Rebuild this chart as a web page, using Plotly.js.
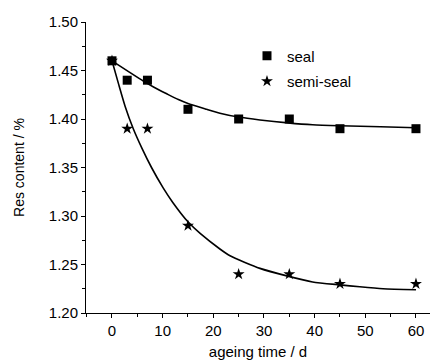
<!DOCTYPE html>
<html>
<head>
<meta charset="utf-8">
<script src="https://cdn.plot.ly/plotly-3.0.1.min.js"></script>
<style>html,body{margin:0;padding:0;background:#fff;}#chart{width:431px;height:361px;}</style>
</head>
<body>
<div id="chart"></div>
<script>
// Measured data
const days = [0, 3, 7, 15, 25, 35, 45, 60];
const sealValues = [1.46, 1.44, 1.44, 1.41, 1.40, 1.40, 1.39, 1.39];
const semiSealValues = [1.46, 1.39, 1.39, 1.29, 1.24, 1.24, 1.23, 1.23];

// Fitted curves
const sealFitDays = [0, 3.5, 6.2, 8.2, 10.8, 13.1, 15, 18.7, 21.3, 25, 29.2, 34.7, 39.6, 45, 53, 60];
const sealFitValues = [1.460, 1.448, 1.439, 1.433, 1.426, 1.420, 1.416, 1.410, 1.406, 1.402, 1.399, 1.396, 1.394, 1.393, 1.392, 1.391];
const semiFitDays = [0, 1.25, 2.6, 4.2, 5.9, 7.8, 10.1, 12, 15, 17.4, 21.3, 23.3, 29.2, 34.7, 39.6, 45, 48.9, 53.5, 60];
const semiFitValues = [1.460, 1.437, 1.413, 1.390, 1.370, 1.350, 1.329, 1.314, 1.294, 1.282, 1.266, 1.259, 1.246, 1.238, 1.232, 1.229, 1.227, 1.225, 1.224];

const xTickVals = [0, 10, 20, 30, 40, 50, 60];
const yTickVals = [1.20, 1.25, 1.30, 1.35, 1.40, 1.45, 1.50];
const yTickText = ['1.20', '1.25', '1.30', '1.35', '1.40', '1.45', '1.50'];

const FONT = 'Liberation Sans, Arial, sans-serif';

const traces = [
  {x: sealFitDays, y: sealFitValues, mode: 'lines', line: {color: '#000', width: 1.6, shape: 'spline', smoothing: 0.6}, showlegend: false, hoverinfo: 'skip'},
  {x: semiFitDays, y: semiFitValues, mode: 'lines', line: {color: '#000', width: 1.6, shape: 'spline', smoothing: 0.6}, showlegend: false, hoverinfo: 'skip'},
  {x: days, y: sealValues, mode: 'markers', name: 'seal', legendgroup: 'a',
   marker: {symbol: 'square', size: 9, color: '#000'}},
  {x: days, y: semiSealValues, mode: 'markers', name: 'semi-seal', legendgroup: 'b',
   marker: {symbol: 'star', size: 9, color: '#000'}}
];

const layout = {
  width: 431, height: 361,
  margin: {l: 86, r: 1, t: 22, b: 48},
  paper_bgcolor: '#fff', plot_bgcolor: '#fff',
  font: {family: FONT, size: 15, color: '#000'},
  showlegend: true,
  legend: {x: 0.468, y: 0.94, xanchor: 'left', yanchor: 'top', bgcolor: 'rgba(0,0,0,0)',
           font: {family: FONT, size: 15, color: '#000'}, traceorder: 'grouped', tracegroupgap: 3},
  xaxis: {
    range: [-5.13, 62.77], tickvals: xTickVals, ticks: 'outside', ticklen: 4, tickwidth: 1, tickcolor: '#000',
    showline: true, linecolor: '#000', linewidth: 1, showgrid: false, zeroline: false, mirror: false,
    tickfont: {family: FONT, size: 15, color: '#000'},
    minor: {dtick: 5, tick0: 0, ticks: 'outside', ticklen: 3, tickcolor: '#000', showgrid: false},
    title: {text: 'ageing time / d', font: {family: FONT, size: 15, color: '#000'}, standoff: 8}
  },
  yaxis: {
    range: [1.20, 1.50], tickvals: yTickVals, ticktext: yTickText, ticks: 'outside', ticklen: 4, tickwidth: 1, tickcolor: '#000',
    showline: true, linecolor: '#000', linewidth: 1, showgrid: false, zeroline: false, mirror: false,
    tickfont: {family: FONT, size: 15, color: '#000'},
    minor: {dtick: 0.025, tick0: 1.2, ticks: 'outside', ticklen: 3, tickcolor: '#000', showgrid: false},
    title: {text: 'Res content / %', font: {family: FONT, size: 14, color: '#000'}, standoff: 20}
  }
};

Plotly.newPlot('chart', traces, layout, {staticPlot: true, displayModeBar: false});
</script>
</body>
</html>
